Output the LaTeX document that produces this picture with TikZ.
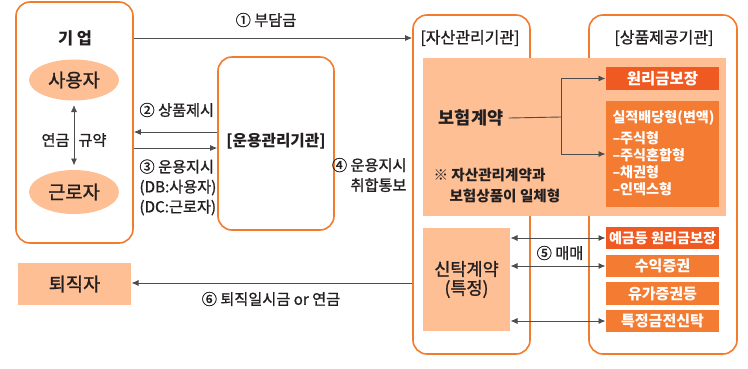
\documentclass[tikz,border=0pt]{standalone}
\usepackage{fontspec}
\setmainfont{Noto Sans CJK KR}[UprightFeatures={FakeBold=1.2}]
\usetikzlibrary{arrows.meta, shapes.geometric, positioning}
\definecolor{edgeor}{HTML}{F37B2D}
\definecolor{lightor}{HTML}{FDBF93}
\definecolor{darkor}{HTML}{EE5A22}
\definecolor{midor}{HTML}{F47B32}
\definecolor{ink}{HTML}{231F20}
\definecolor{wire}{HTML}{4D4D4D}

\begin{document}
\begin{tikzpicture}[x=1pt, y=-1pt, line width=1pt, text=ink,
    orgbox/.style={draw=edgeor, line width=1.6pt, rounded corners=14pt, inner sep=0pt},
    softbox/.style={fill=lightor, inner sep=0pt},
    prodbox/.style={fill=midor, inner sep=0pt, text=white, font=\bfseries\fontsize{15}{18}\selectfont},
    flow/.style={draw=wire, line width=0.9pt, -{Latex[length=7pt,width=6pt]}},
    both/.style={draw=wire, line width=0.9pt, {Latex[length=7pt,width=6pt]}-{Latex[length=7pt,width=6pt]}},
    lbl/.style={inner sep=0pt, font=\fontsize{15.2}{17}\selectfont}]
    \useasboundingbox (0,0) rectangle (748,368);
    % outer institution frames
    \node[orgbox, minimum width=117pt, minimum height=241pt] (firm) at (74.5,122.5) {};
    \node[orgbox, minimum width=116pt, minimum height=173pt] (mgr) at (276,143.5) {};
    \node[orgbox, minimum width=117pt, minimum height=339pt] (asset) at (471.5,184.5) {};
    \node[orgbox, minimum width=148pt, minimum height=339pt] (prov) at (663,184.5) {};
    \node[inner sep=0pt, font=\bfseries\fontsize{16.4}{19}\selectfont] (firmT) at (75,38) {기 업};
    \node[inner sep=0pt, font=\bfseries\fontsize{15.7}{19}\selectfont] (mgrT) at (276,141) {[운용관리기관]};
    \node[inner sep=0pt, font=\fontsize{16}{19}\selectfont] (assetT) at (470,38) {[자산관리기관]};
    \node[inner sep=0pt, font=\fontsize{16}{19}\selectfont] (provT) at (664,38) {[상품제공기관]};
    % inside the firm
    \node[ellipse, fill=lightor, minimum width=90pt, minimum height=41pt, inner sep=0pt,
        font=\fontsize{18.7}{20}\selectfont] (user) at (74,80) {사용자};
    \node[ellipse, fill=lightor, minimum width=90pt, minimum height=44pt, inner sep=0pt,
        font=\fontsize{18.7}{20}\selectfont] (worker) at (74,192) {근로자};
    \draw[both] ([yshift=-4pt]user.south) -- ([yshift=4pt]worker.north);
    \node[lbl, anchor=east] (pens) at (70,140) {연금};
    \node[lbl, anchor=west] (rule) at (78,140) {규약};
    % retiree
    \node[softbox, minimum width=113pt, minimum height=42pt, font=\fontsize{18.7}{20}\selectfont] (retiree) at (74.5,284) {퇴직자};
    % insurance block
    \node[softbox, minimum width=303pt, minimum height=158pt] (ins) at (574.5,137) {};
    \node[inner sep=0pt, font=\bfseries\fontsize{17.5}{19}\selectfont] (insT) at (471,118) {보험계약};
    \node[lbl, anchor=west, font=\bfseries\fontsize{14.6}{18}\selectfont] (noteA) at (433,175) {※ 자산관리계약과};
    \node[lbl, anchor=west, font=\bfseries\fontsize{14.6}{18}\selectfont] (noteB) at (449,196) {보험상품이 일체형};
    \node[prodbox, fill=darkor, minimum width=113pt, minimum height=23pt,
        font=\bfseries\fontsize{15.5}{18}\selectfont] (guar) at (662.5,78.5) {원리금보장};
    \node[prodbox, minimum width=113pt, minimum height=106pt] (var) at (662.5,154) {};
    \node[anchor=north west, inner sep=0pt, align=left, text=white,
        font=\bfseries\fontsize{14.1}{17}\selectfont] (varT) at (612,110)
        {실적배당형(변액)\\[4pt]–주식형\\–주식혼합형\\–채권형\\–인덱스형};
    \coordinate (fork) at (561,117);
    \draw[draw=wire, line width=0.9pt] ([xshift=5pt]insT.east) -- (fork);
    \draw[flow] (fork) |- (guar.west);
    \draw[flow] (fork) |- (var.west |- 0,154);
    % trust block
    \node[softbox, minimum width=87pt, minimum height=103pt, align=center,
        font=\fontsize{17.5}{19}\selectfont] (trust) at (466.5,279.5) {신탁계약\\(특정)};
    \node[prodbox, fill=darkor, minimum width=113pt, minimum height=22pt,
        font=\bfseries\fontsize{14.1}{18}\selectfont] (dep) at (662.5,238) {예금등 원리금보장};
    \node[prodbox, minimum width=113pt, minimum height=22pt] (fund) at (662.5,266) {수익증권};
    \node[prodbox, minimum width=113pt, minimum height=23pt] (sec) at (662.5,293.5) {유가증권등};
    \node[prodbox, minimum width=113pt, minimum height=22pt] (mtr) at (662.5,321) {특정금전신탁};
    \draw[both] (trust.east |- dep.west) -- (dep.west);
    \draw[both] (trust.east |- fund.west) -- (fund.west);
    \draw[both] (trust.east |- mtr.west) -- (mtr.west);
    \node[lbl] (trade) at (560,253) {⑤ 매매};
    % flows between institutions
    \draw[flow] (firm.east |- 0,38) -- (asset.west |- 0,38);
    \node[lbl] (contrib) at (266,20) {① 부담금};
    \draw[flow] (mgr.west |- 0,132) -- (firm.east |- 0,132);
    \draw[flow] (firm.east |- 0,148) -- (mgr.west |- 0,148);
    \node[lbl, anchor=west] (offer) at (139,110) {② 상품제시};
    \node[lbl, anchor=north west, align=left, font=\fontsize{15.2}{20}\selectfont] (order) at (139,159)
        {③ 운용지시\\(DB:사용자)\\(DC:근로자)};
    \node[lbl, anchor=east, align=right, font=\fontsize{15.2}{20}\selectfont] (notice) at (407,175)
        {④ 운용지시\\취합통보};
    \draw[flow] (asset.west |- 0,283) -- (retiree.east |- 0,283);
    \node[lbl] (payout) at (271,299) {⑥ 퇴직일시금 or 연금};
\end{tikzpicture}
\end{document}
